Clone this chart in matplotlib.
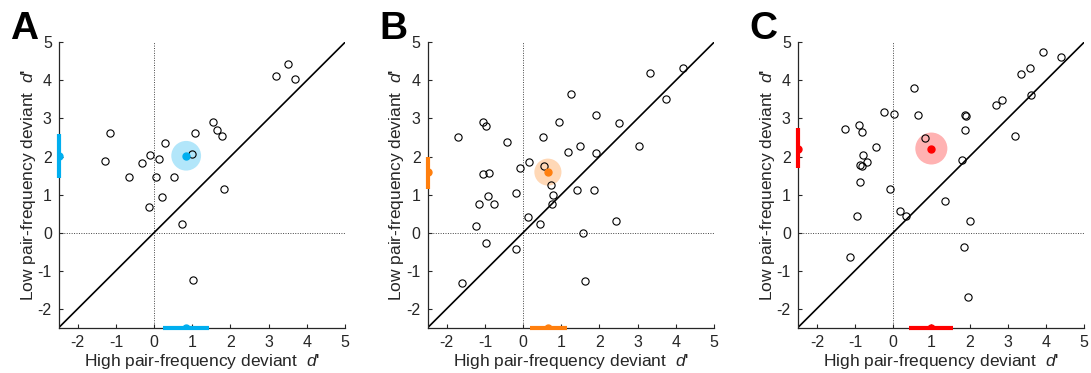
"""Low vs high pair-frequency deviant d' for three groups (panels A-C)."""
import matplotlib

matplotlib.use("Agg")
import matplotlib.pyplot as plt  # noqa: E402
from matplotlib.patches import Circle  # noqa: E402

plt.rcParams["font.family"] = ["Liberation Sans", "DejaVu Sans"]
plt.rcParams["mathtext.fontset"] = "custom"
plt.rcParams["mathtext.it"] = "Liberation Sans:italic"
plt.rcParams["mathtext.rm"] = "Liberation Sans"
plt.rcParams["axes.unicode_minus"] = False

# per-subject d' values (x = high pair-frequency, y = low pair-frequency)
hi_a = [3.18, 3.50, 3.68, 1.54, 1.66, 1.79, 1.07, 0.98, 0.29, -0.10, 0.12,
        -0.31, -1.28, -1.16, -0.67, 0.05, 0.52, 0.21, -0.14, 0.74, 1.83, 1.03]
lo_a = [4.11, 4.44, 4.05, 2.91, 2.69, 2.54, 2.63, 2.07, 2.36, 2.04, 1.94,
        1.83, 1.88, 2.62, 1.46, 1.45, 1.45, 0.94, 0.68, 0.23, 1.14, -1.25]

hi_b = [4.18, 3.33, 3.75, 1.25, 1.92, 0.93, 2.50, -1.05, -0.96, -1.71, -0.42,
        0.52, 1.48, 1.18, 3.03, 1.92, -0.07, 0.15, 0.54, -1.04, -0.89, 0.73,
        -0.18, -0.91, 0.78, 1.41, 1.86, -1.15, -0.75, 0.76, 0.12, 0.45, -1.23,
        2.43, 1.56, -0.98, -0.18, -1.61, 1.61]
lo_b = [4.33, 4.19, 3.51, 3.65, 3.10, 2.91, 2.87, 2.90, 2.81, 2.50, 2.39,
        2.52, 2.28, 2.13, 2.28, 2.10, 1.71, 1.85, 1.76, 1.53, 1.56, 1.26,
        1.05, 0.96, 1.00, 1.11, 1.12, 0.76, 0.76, 0.76, 0.41, 0.22, 0.18,
        0.30, 0.00, -0.27, -0.44, -1.33, -1.26]

hi_c = [3.92, 4.40, 3.35, 3.59, 3.60, 0.54, -0.24, 0.03, 0.64, 1.89, 1.91,
        2.70, 2.86, 3.19, -1.25, -0.89, -0.81, 0.83, 1.88, -0.44, -0.79,
        -0.86, -0.82, -0.68, 1.80, -0.87, -0.09, 1.35, 0.19, 0.33, -0.94,
        2.02, 1.86, -1.14, 1.96]
lo_c = [4.74, 4.61, 4.18, 4.32, 3.61, 3.79, 3.16, 3.13, 3.10, 3.08, 3.07,
        3.36, 3.48, 2.53, 2.71, 2.84, 2.65, 2.48, 2.69, 2.26, 2.05, 1.79,
        1.74, 1.85, 1.92, 1.32, 1.15, 0.82, 0.58, 0.44, 0.44, 0.30, -0.39,
        -0.64, -1.68]

# group means and intervals
mean_hi = [0.84, 0.65, 1.00]
mean_lo = [2.02, 1.59, 2.21]
ci_hi = [(0.24, 1.45), (0.17, 1.15), (0.42, 1.57)]
ci_lo = [(1.43, 2.58), (1.15, 2.00), (1.69, 2.74)]
blob_r = [0.39, 0.355, 0.42]

letters = ["A", "B", "C"]
colors = ["#00AEEF", "#FF7F0E", "#FF0000"]
xs = [hi_a, hi_b, hi_c]
ys = [lo_a, lo_b, lo_c]
ticks = [-2, -1, 0, 1, 2, 3, 4, 5]

fig = plt.figure(figsize=(10.91, 3.73), dpi=100)
lefts = [0.0538, 0.392, 0.7312]
dark = "#262626"

for i in range(3):
    ax = fig.add_axes([lefts[i], 0.1214, 0.2624, 0.765])
    c = colors[i]
    ax.axhline(0, color="#444444", lw=0.7, ls=(0, (1, 1.5)), zorder=1)
    ax.axvline(0, color="#444444", lw=0.7, ls=(0, (1, 1.5)), zorder=1)
    ax.plot([-2.5, 5], [-2.5, 5], color="black", lw=1.2, zorder=2)
    ax.add_patch(Circle((mean_hi[i], mean_lo[i]), blob_r[i], color=c,
                        alpha=0.3, lw=0, zorder=3))
    ax.plot(xs[i], ys[i], "o", mfc="none", mec="black", ms=5.2, mew=0.8,
            zorder=4)
    ax.plot(mean_hi[i], mean_lo[i], "o", color=c, ms=5, zorder=5)
    # marginal intervals on the axes
    ax.plot([-2.5, -2.5], ci_lo[i], color=c, lw=3, clip_on=False,
            solid_capstyle="butt", zorder=6)
    ax.plot(ci_hi[i], [-2.5, -2.5], color=c, lw=3, clip_on=False,
            solid_capstyle="butt", zorder=6)
    ax.plot(-2.5, mean_lo[i], "o", color=c, ms=5, zorder=6)
    ax.plot(mean_hi[i], -2.5, "o", color=c, ms=5, zorder=6)

    ax.set_xlim(-2.5, 5)
    ax.set_ylim(-2.5, 5)
    ax.set_xticks(ticks)
    ax.set_yticks(ticks)
    for side in ["top", "right"]:
        ax.spines[side].set_visible(False)
    for side in ["left", "bottom"]:
        ax.spines[side].set_color(dark)
        ax.spines[side].set_linewidth(0.9)
    ax.tick_params(direction="in", length=3, width=0.8, colors=dark,
                   labelsize=11.5, pad=5)
    ax.set_xlabel("High pair-frequency deviant  $d$'", fontsize=12.5,
                  color=dark, labelpad=2)
    ax.set_ylabel("Low pair-frequency deviant  $d$'", fontsize=12.5,
                  color=dark, labelpad=0)
    ax.text(-0.17, 0.985, letters[i], transform=ax.transAxes, fontsize=28,
            fontweight="bold", va="bottom", ha="left")

fig.savefig("out.png", dpi=100)
